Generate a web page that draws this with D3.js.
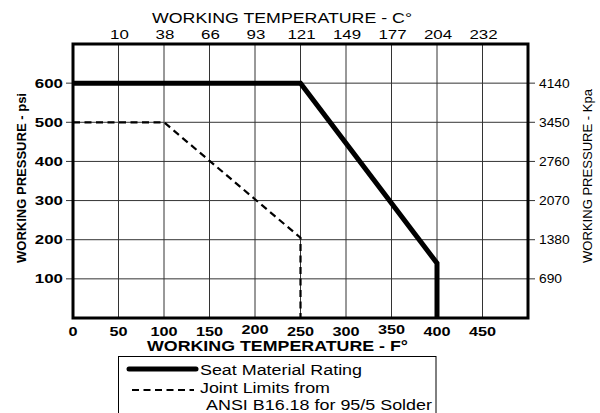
<!DOCTYPE html>
<html>
<head>
<meta charset="utf-8">
<script src="https://d3js.org/d3.v7.min.js"></script>
<style>
  body { margin: 0; background: #fff; }
  text { font-family: Arial, "Liberation Sans", sans-serif; fill: #000; }
</style>
</head>
<body>
<div id="chart"></div>
<script>
var width = 600,
    height = 413;

// data
var fTicks = [50, 100, 150, 200, 250, 300, 350, 400, 450];
var fLabels = [0, 50, 100, 150, 200, 250, 300, 350, 400, 450];
var cLabels = ["10", "38", "66", "93", "121", "149", "177", "204", "232"];
var psiTicks = [100, 200, 300, 400, 500, 600];
var kpaLabels = ["690", "1380", "2070", "2760", "3450", "4140"];

var seatTemp = [0, 250, 400, 400];
var seatPsi = [600, 600, 140, 0];
var jointTemp = [0, 100, 250, 250];
var jointPsi = [500, 500, 205, 0];

var x = d3.scaleLinear().domain([0, 500]).range([73, 528]);
var y = d3.scaleLinear().domain([0, 700]).range([318, 44]);

var svg = d3.select("#chart").append("svg")
    .attr("width", width)
    .attr("height", height);

// the original type is drawn wide, so stretch texts sideways
function stretch(sel, k) {
  sel.each(function() {
    var w = this.getComputedTextLength();
    d3.select(this)
      .attr("textLength", w * k)
      .attr("lengthAdjust", "spacingAndGlyphs");
  });
}
function fit(sel, len) {
  sel.attr("textLength", len).attr("lengthAdjust", "spacingAndGlyphs");
}

// grid
svg.selectAll(".vgrid")
  .data(fTicks)
  .enter().append("line")
  .attr("x1", function(d) { return x(d); })
  .attr("x2", function(d) { return x(d); })
  .attr("y1", y(700))
  .attr("y2", y(0))
  .style("stroke", "#333")
  .style("stroke-width", 1);

svg.selectAll(".hgrid")
  .data(psiTicks)
  .enter().append("line")
  .attr("x1", x(0) - 7)
  .attr("x2", x(500) + 7)
  .attr("y1", function(d) { return y(d); })
  .attr("y2", function(d) { return y(d); })
  .style("stroke", "#333")
  .style("stroke-width", 1);

// frame
svg.append("rect")
  .attr("x", x(0))
  .attr("y", y(700))
  .attr("width", x(500) - x(0))
  .attr("height", y(0) - y(700))
  .style("fill", "none")
  .style("stroke", "#000")
  .style("stroke-width", 3);

// left labels
svg.selectAll(".psi")
  .data(psiTicks)
  .enter().append("text")
  .attr("x", 63)
  .attr("y", function(d) { return y(d) + 4.5; })
  .attr("text-anchor", "end")
  .style("font-size", "13px")
  .style("font-weight", "bold")
  .text(function(d) { return d; })
  .call(stretch, 1.3);

// right labels
svg.selectAll(".kpa")
  .data(psiTicks)
  .enter().append("text")
  .attr("x", 539)
  .attr("y", function(d) { return y(d) + 4.5; })
  .style("font-size", "12px")
  .text(function(d, i) { return kpaLabels[i]; })
  .call(stretch, 1.15);

// bottom labels
svg.selectAll(".fl")
  .data(fLabels)
  .enter().append("text")
  .attr("x", function(d) { return x(d); })
  .attr("y", function(d) { return (d === 200 || d === 350) ? 334 : 336; })
  .attr("text-anchor", "middle")
  .style("font-size", "13px")
  .style("font-weight", "bold")
  .text(function(d) { return d; })
  .call(stretch, 1.25);

// top labels
svg.selectAll(".cl")
  .data(fTicks)
  .enter().append("text")
  .attr("x", function(d) { return x(d) + 1; })
  .attr("y", 38.5)
  .attr("text-anchor", "middle")
  .style("font-size", "12.5px")
  .text(function(d, i) { return cLabels[i]; })
  .call(stretch, 1.35);

// titles
svg.append("text")
  .attr("x", 282)
  .attr("y", 23)
  .attr("text-anchor", "middle")
  .style("font-size", "14px")
  .text("WORKING TEMPERATURE - C°")
  .call(fit, 260);

svg.append("text")
  .attr("x", 277.5)
  .attr("y", 350.5)
  .attr("text-anchor", "middle")
  .style("font-size", "14px")
  .style("font-weight", "bold")
  .text("WORKING TEMPERATURE - F°")
  .call(fit, 261);

svg.append("text")
  .attr("transform", "translate(26,178) rotate(-90)")
  .attr("text-anchor", "middle")
  .style("font-size", "12.5px")
  .style("font-weight", "bold")
  .text("WORKING PRESSURE - psi")
  .call(fit, 170);

svg.append("text")
  .attr("transform", "translate(592,176) rotate(-90)")
  .attr("text-anchor", "middle")
  .style("font-size", "13px")
  .text("WORKING PRESSURE - Kpa")
  .call(fit, 174);

// series
var line = d3.line()
  .x(function(d) { return x(d[0]); })
  .y(function(d) { return y(d[1]); });

svg.append("path")
  .datum(d3.zip(jointTemp, jointPsi))
  .attr("d", line)
  .style("fill", "none")
  .style("stroke", "#000")
  .style("stroke-width", 2.2)
  .style("stroke-dasharray", "7,4.5");

svg.append("path")
  .datum(d3.zip(seatTemp, seatPsi))
  .attr("d", line)
  .style("fill", "none")
  .style("stroke", "#000")
  .style("stroke-width", 5);

// legend
var legend = svg.append("g");
legend.append("rect")
  .attr("x", 118.5)
  .attr("y", 356.5)
  .attr("width", 317.5)
  .attr("height", 70)
  .style("fill", "#fff")
  .style("stroke", "#000")
  .style("stroke-width", 1);

legend.append("line")
  .attr("x1", 129).attr("x2", 196)
  .attr("y1", 369).attr("y2", 369)
  .style("stroke", "#000")
  .style("stroke-width", 5)
  .style("stroke-linecap", "round");

legend.append("line")
  .attr("x1", 132).attr("x2", 194)
  .attr("y1", 390).attr("y2", 390)
  .style("stroke", "#000")
  .style("stroke-width", 2)
  .style("stroke-dasharray", "7,4.5");

legend.append("text")
  .attr("x", 200).attr("y", 375)
  .style("font-size", "14px")
  .text("Seat Material Rating")
  .call(fit, 162);

legend.append("text")
  .attr("x", 200).attr("y", 393)
  .style("font-size", "14px")
  .text("Joint Limits from")
  .call(fit, 130);

legend.append("text")
  .attr("x", 206).attr("y", 410)
  .style("font-size", "14px")
  .text("ANSI B16.18 for 95/5 Solder")
  .call(fit, 226);
</script>
</body>
</html>
